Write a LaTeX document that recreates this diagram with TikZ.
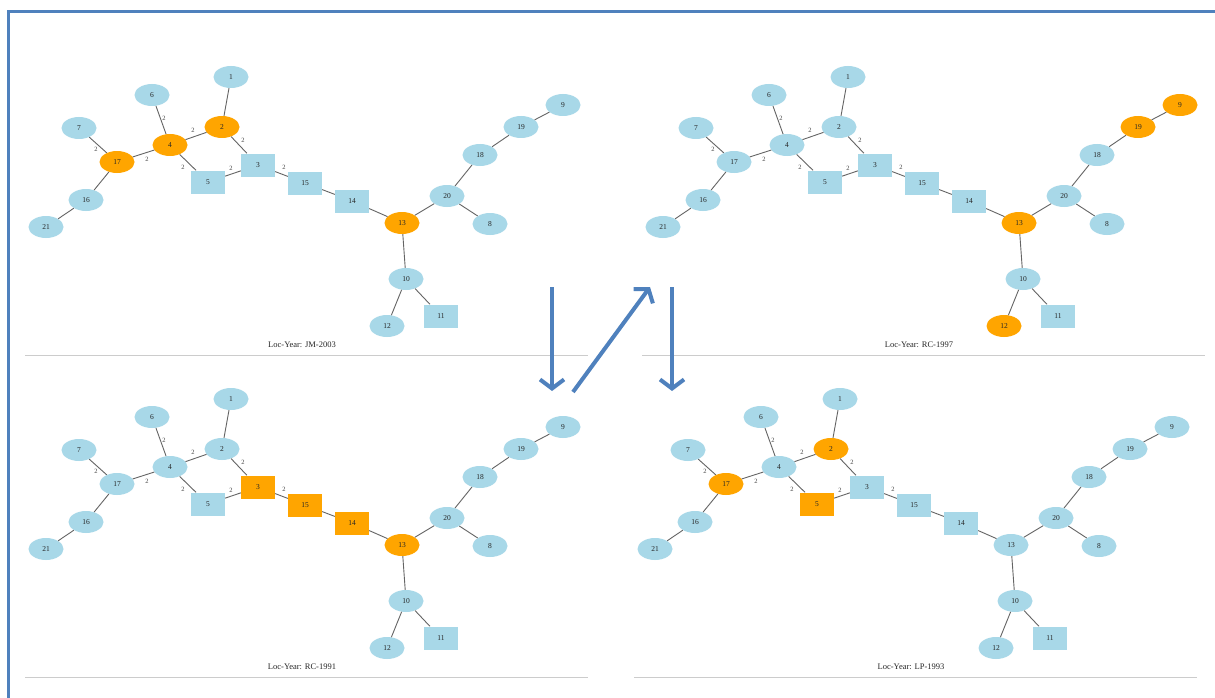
\documentclass[tikz,border=0pt]{standalone}
\usepackage{fontspec}
\setmainfont{Liberation Serif}
\usetikzlibrary{shapes.geometric,arrows.meta}
\definecolor{nodeblue}{RGB}{168,216,232}
\definecolor{nodeorange}{RGB}{255,165,0}
\definecolor{frameblue}{RGB}{79,129,189}
\definecolor{edgegray}{RGB}{100,100,100}
\tikzset{
  base/.style={inner sep=0pt, font=\fontsize{7.5}{8}\selectfont, text=black!85},
  ell/.style={base, ellipse, minimum width=35pt, minimum height=22pt},
  box/.style={base, rectangle, minimum width=34pt, minimum height=23pt},
  f1/.style={fill=nodeblue}, f2/.style={fill=nodeblue}, f3/.style={fill=nodeblue},
  f4/.style={fill=nodeblue}, f5/.style={fill=nodeblue}, f6/.style={fill=nodeblue},
  f7/.style={fill=nodeblue}, f8/.style={fill=nodeblue}, f9/.style={fill=nodeblue},
  f10/.style={fill=nodeblue}, f11/.style={fill=nodeblue}, f12/.style={fill=nodeblue},
  f13/.style={fill=nodeblue}, f14/.style={fill=nodeblue}, f15/.style={fill=nodeblue},
  f16/.style={fill=nodeblue}, f17/.style={fill=nodeblue}, f18/.style={fill=nodeblue},
  f19/.style={fill=nodeblue}, f20/.style={fill=nodeblue}, f21/.style={fill=nodeblue},
  hl/.style={fill=nodeorange},
  lnk/.style={draw=edgegray, line width=0.9pt},
  wt/.style={font=\fontsize{6.5}{7}\selectfont, text=black!75, inner sep=0.5pt},
  captext/.style={font=\fontsize{8.5}{9}\selectfont, text=black!85},
  sepline/.style={draw=black!20, line width=1pt},
  bigarrow/.style={draw=frameblue, line width=4pt, -{Straight Barb[length=9pt,width=24pt]}}
}
\newcommand\drawedges{%
  \draw[lnk] (1) -- (2);  \draw[lnk] (6) -- (4);  \draw[lnk] (4) -- (2);
  \draw[lnk] (2) -- (3);  \draw[lnk] (7) -- (17); \draw[lnk] (17) -- (4);
  \draw[lnk] (4) -- (5);  \draw[lnk] (5) -- (3);  \draw[lnk] (3) -- (15);
  \draw[lnk] (15) -- (14); \draw[lnk] (14) -- (13); \draw[lnk] (13) -- (20);
  \draw[lnk] (20) -- (18); \draw[lnk] (18) -- (19); \draw[lnk] (19) -- (9);
  \draw[lnk] (20) -- (8); \draw[lnk] (17) -- (16); \draw[lnk] (16) -- (21);
  \draw[lnk] (13) -- (10); \draw[lnk] (10) -- (12); \draw[lnk] (10) -- (11);
}
\newcommand\layoutA[1]{%
  \node[ell,f1] (1) at (231,77) {1};
  \node[ell,f6] (6) at (152,95) {6};
  \node[ell,f2] (2) at (222,127) {2};
  \node[ell,f4] (4) at (170,145) {4};
  \node[ell,f7] (7) at (79,128) {7};
  \node[ell,f17] (17) at (117,162) {17};
  \node[box,f5] (5) at (208,182) {5};
  \node[box,f3] (3) at (258,165) {3};
  \node[box,f15] (15) at (305,183) {15};
  \node[box,f14] (14) at (352,201) {14};
  \node[ell,f13] (13) at (402,223) {13};
  \node[ell,f20] (20) at (447,196) {20};
  \node[ell,f18] (18) at (480,155) {18};
  \node[ell,f19] (19) at (521,127) {19};
  \node[ell,f9] (9) at (563,105) {9};
  \node[ell,f8] (8) at (490,224) {8};
  \node[ell,f16] (16) at (86,200) {16};
  \node[ell,f21] (21) at (46,227) {21};
  \node[ell,f10] (10) at (406,279) {10};
  \node[ell,f12] (12) at (387,326) {12};
  \node[box,f11] (11) at (441,316) {11};
  \drawedges
  \node[wt] (w1) at (164,118) {2};
  \node[wt] (w2) at (193,130) {2};
  \node[wt] (w3) at (243,140) {2};
  \node[wt] (w4) at (96,149) {2};
  \node[wt] (w5) at (147,159) {2};
  \node[wt] (w6) at (183,167) {2};
  \node[wt] (w7) at (231,168) {2};
  \node[wt] (w8) at (284,167) {2};
  \node[captext] (cap) at (302,345) {#1};
  \draw[sepline] (25,355) -- (588,355);
}
\begin{document}
\begin{tikzpicture}[x=1pt,y=-1pt]
\useasboundingbox (0,0) rectangle (1215,698);
\fill[white] (0,0) rectangle (1215,698);
\draw[frameblue, line width=3pt] (8,698) -- (8,12) -- (1215,12);

% top-left
\begin{scope}[name prefix=tl-, f2/.style=hl, f4/.style=hl, f17/.style=hl, f13/.style=hl]
  \layoutA{Loc-Year: JM-2003}
\end{scope}
% top-right
\begin{scope}[shift={(617,0)}, name prefix=tr-, f19/.style=hl, f9/.style=hl, f13/.style=hl, f12/.style=hl]
  \layoutA{Loc-Year: RC-1997}
\end{scope}
% bottom-left
\begin{scope}[shift={(0,322)}, name prefix=bl-, f3/.style=hl, f15/.style=hl, f14/.style=hl, f13/.style=hl]
  \layoutA{Loc-Year: RC-1991}
\end{scope}
% bottom-right
\begin{scope}[shift={(609,322)}, name prefix=br-, f2/.style=hl, f17/.style=hl, f5/.style=hl]
  \layoutA{Loc-Year: LP-1993}
\end{scope}

% arrows
\coordinate (a1s) at (552,287);
\coordinate (a1e) at (552,391);
\coordinate (a2s) at (573,392);
\coordinate (a2e) at (650,287);
\coordinate (a3s) at (672,287);
\coordinate (a3e) at (672,391);
\draw[bigarrow] (a1s) -- (a1e);
\draw[bigarrow] (a2s) -- (a2e);
\draw[bigarrow] (a3s) -- (a3e);
\end{tikzpicture}
\end{document}
